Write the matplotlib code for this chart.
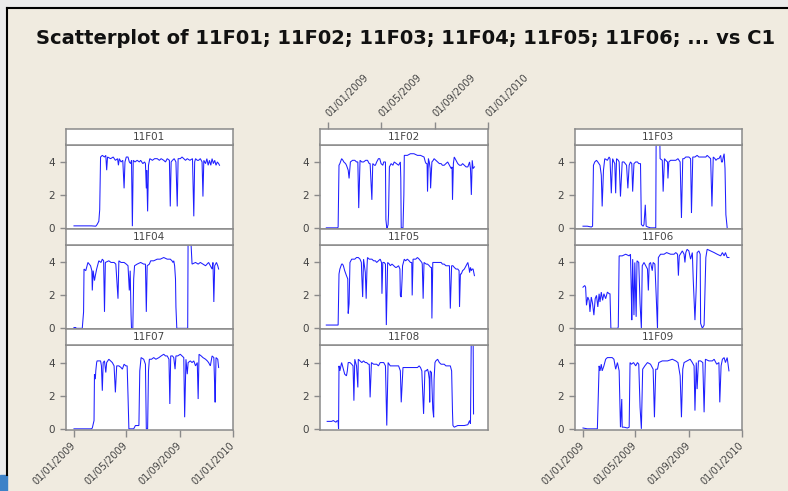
import matplotlib
matplotlib.use("Agg")
import matplotlib.pyplot as plt
from matplotlib.patches import Rectangle
from matplotlib.lines import Line2D

# ---------------- data ----------------
# x = days since 01/01/2009, y = value
tick_days = [0, 120, 243, 365]
tick_labels = ["01/01/2009", "01/05/2009", "01/09/2009", "01/01/2010"]
panel_names = ["11F01", "11F02", "11F03",
               "11F04", "11F05", "11F06",
               "11F07", "11F08", "11F09"]

f01 = [(0,0.12),(20,0.12),(40,0.12),(50,0.1),(53,0.2),(57,0.4),(59,1.1),(61,4.3),(65,4.4),(70,4.3),(73,4.4),
       (75,3.5),(77,4.3),(84,4.2),(90,4.3),(95,4.1),(100,4.2),(102,3.8),(104,4.2),(108,4.0),(112,4.1),(115,2.4),
       (117,4.0),(120,4.3),(124,4.3),(127,4.0),(130,3.9),(132,4.1),(134,0.1),(136,4.1),(140,4.0),(145,4.1),
       (150,4.0),(153,4.1),(158,3.9),(162,4.0),(164,3.9),(166,2.4),(167,3.5),(169,1.0),(171,3.8),(174,4.2),
       (180,4.1),(185,4.2),(191,4.2),(196,4.1),(200,4.2),(206,4.1),(210,4.0),(214,4.2),(219,4.1),(221,1.3),
       (223,4.0),(226,4.1),(230,4.2),(234,4.0),(237,1.3),(239,4.2),(244,4.2),(248,4.3),(252,4.2),(256,4.1),
       (260,4.2),(266,4.1),(272,4.2),(275,0.7),(277,4.0),(279,4.2),(283,4.1),(286,4.1),(290,4.2),(294,4.0),
       (296,1.9),(298,4.1),(302,3.9),(305,4.2),(308,3.8),(311,4.1),(314,3.8),(317,4.2),(320,3.9),(323,4.1),
       (326,3.8),(329,4.0),(332,3.9),(334,3.8)]

f02 = [(-4,0),(10,0),(22,0),(23,0.05),(25,3.8),(27,3.9),(31,4.2),(34,4.1),(36,4.0),(40,3.9),(42,3.8),(46,3.5),
       (48,3.0),(51,4.0),(56,4.1),(61,4.1),(65,4.0),(68,4.0),(70,1.2),(73,4.1),(77,4.0),(81,4.0),(86,4.1),
       (90,4.1),(94,3.9),(96,3.9),(100,1.7),(102,3.9),(106,3.8),(108,3.8),(111,4.0),(115,4.2),(118,4.2),
       (121,3.9),(125,3.8),(127,4.0),(131,4.0),(132,0.5),(134,0),(135,0),(137,0.2),(138,0.8),(140,3.7),
       (144,3.9),(148,3.8),(151,4.0),(156,3.9),(161,3.8),(165,4.0),(166,3.0),(167,0),(171,0),(173,2.0),
       (174,4.4),(177,4.4),(181,4.4),(188,4.5),(196,4.5),(204,4.4),(208,4.4),(211,4.4),(219,4.3),(222,4.0),
       (224,3.9),(226,3.9),(227,2.2),(229,4.2),(231,4.0),(233,3.6),(234,2.4),(237,4.0),(240,4.1),(242,4.2),
       (246,4.1),(250,4.0),(254,3.9),(258,3.9),(261,3.8),(265,3.8),(269,3.9),(273,4.0),(277,3.8),(281,3.6),
       (283,3.7),(284,1.7),(286,3.9),(288,4.3),(292,4.1),(296,3.9),(300,3.8),(304,3.8),(307,3.9),(311,3.8),
       (315,3.7),(319,3.7),(323,4.0),(325,3.6),(327,2.0),(329,4.1),(331,3.6),(334,3.7)]

f03 = [(0,0.1),(10,0.1),(19,0.05),(22,0.1),(24,3.8),(27,4.0),(31,4.1),(34,4.0),(39,3.8),(42,3.2),(44,1.3),
       (47,3.5),(50,4.2),(56,4.1),(60,4.3),(62,4.2),(65,2.1),(68,4.2),(71,4.0),(73,3.9),(75,2.1),(77,4.2),
       (81,4.1),(83,4.0),(86,1.9),(90,4.0),(94,4.0),(100,3.8),(103,2.4),(106,3.8),(109,4.0),(112,3.9),
       (114,2.2),(117,3.9),(121,4.0),(125,4.0),(128,3.9),(132,3.9),(134,0.2),(138,0.1),(140,0.2),(143,1.4),
       (145,0.1),(149,0.05),(155,0),(167,0),(168,6),(176,6),(177,4.2),(182,4.1),(184,2.2),(187,4.2),
       (190,4.1),(194,4.0),(195,3.0),(197,4.0),(201,4.1),(209,4.1),(213,4.1),(218,4.2),(223,4.0),(226,0.6),
       (229,4.2),(232,4.2),(236,4.3),(243,4.3),(247,4.2),(249,0.9),(252,4.3),(257,4.3),(262,4.4),(266,4.3),
       (270,4.3),(274,4.3),(278,4.3),(282,4.3),(285,4.4),(289,4.3),(293,4.2),(296,1.3),(299,4.3),(303,4.2),
       (305,4.1),(309,4.2),(312,4.2),(316,4.4),(318,4.0),(320,4.0),(322,4.3),(324,4.5),(326,3.6),(328,0.8),
       (331,0)]

f04 = [(0,0.05),(4,0.05),(5,0),(19,0),(22,1.0),(23,3.6),(27,3.5),(30,3.8),(32,4.0),(35,3.9),(38,3.8),
       (41,3.5),(42,2.3),(44,3.5),(47,2.9),(49,3.2),(52,3.6),(57,4.1),(62,4.0),(65,4.2),(68,4.1),(70,1.0),
       (72,4.0),(80,4.1),(85,4.0),(92,4.0),(96,3.9),(101,1.8),(103,4.1),(108,4.0),(115,4.0),(120,3.9),
       (124,3.8),(127,2.3),(129,3.5),(131,0.8),(132,0),(135,0),(137,3.0),(139,3.8),(145,3.9),(153,4.0),
       (160,3.9),(164,3.9),(166,1.0),(168,3.8),(173,3.9),(176,4.1),(183,4.1),(191,4.2),(198,4.2),(206,4.3),
       (214,4.2),(221,4.2),(225,4.1),(227,4.0),(229,4.1),(231,3.8),(233,3.0),(234,1.3),(236,0),(250,0),
       (261,0),(262,6),(267,6),(271,3.9),(279,4.0),(285,3.9),(290,4.0),(296,3.9),(302,3.8),(309,4.0),
       (313,3.8),(317,3.6),(319,4.0),(321,1.6),(323,3.8),(327,4.0),(330,3.8),(332,3.6)]

f05 = [(-4,0.2),(10,0.2),(20,0.2),(23,0.2),(25,3.3),(27,3.6),(31,3.9),(33,3.9),(35,3.8),(38,3.5),(42,3.2),
       (45,3.0),(46,0.9),(48,1.5),(50,4.0),(54,4.2),(58,4.2),(61,4.2),(65,4.3),(69,4.3),(73,4.2),(76,4.0),
       (77,3.2),(79,1.9),(81,4.2),(85,3.4),(87,1.8),(89,3.8),(90,4.3),(94,4.2),(96,4.2),(100,4.2),(104,4.1),
       (108,4.1),(111,4.0),(115,4.1),(119,4.2),(122,4.0),(123,2.1),(125,4.0),(128,4.0),(131,3.9),(133,0.2),
       (136,4.0),(140,3.9),(142,3.8),(146,3.9),(150,3.8),(154,3.7),(156,3.7),(161,3.8),(164,3.6),(165,2.0),
       (167,1.9),(169,3.0),(170,3.8),(174,4.2),(177,4.1),(181,4.2),(185,4.1),(188,4.0),(191,4.0),(192,2.0),
       (194,4.2),(200,4.2),(204,4.3),(208,4.2),(211,4.1),(214,4.0),(215,3.9),(217,1.8),(219,4.0),(224,3.9),
       (227,3.9),(231,3.8),(234,3.7),(236,3.7),(237,0.6),(239,4.0),(242,4.0),(246,4.0),(250,4.0),(254,4.0),
       (258,4.0),(261,3.9),(265,3.9),(269,3.8),(273,3.8),(277,3.8),(279,1.2),(282,3.8),(285,3.8),(288,3.7),
       (292,3.6),(296,3.6),(299,3.5),(300,1.3),(302,3.3),(304,3.3),(307,3.5),(311,3.6),(315,3.8),(319,4.0),
       (322,3.6),(323,3.4),(325,3.7),(327,3.5),(329,3.6),(331,3.6),(334,3.2)]

f06 = [(0,2.5),(4,2.6),(6,2.5),(8,1.4),(11,1.9),(14,1.7),(16,1.0),(19,1.9),(22,1.5),(25,0.8),(28,1.8),
       (31,2.0),(34,1.3),(37,2.1),(39,1.6),(42,2.2),(45,1.7),(48,2.1),(52,1.8),(56,2.2),(60,2.1),(62,2.1),
       (64,0),(80,0),(81,0.1),(83,4.4),(90,4.4),(98,4.5),(106,4.4),(109,4.5),(111,2.0),(112,0.5),(114,4.2),
       (117,0.8),(119,4.0),(122,0.7),(124,4.1),(128,4.0),(131,1.5),(134,0),(136,3.8),(140,4.0),(144,3.8),
       (148,3.6),(150,2.3),(152,3.9),(155,4.0),(159,3.5),(161,4.0),(165,3.9),(168,2.0),(171,0),(173,4.3),
       (178,4.5),(186,4.5),(192,4.6),(201,4.5),(209,4.5),(213,4.6),(217,4.5),(219,3.2),(221,4.4),(228,4.7),
       (232,4.5),(234,4.0),(236,4.6),(239,4.8),(243,4.7),(247,4.2),(251,4.6),(253,3.0),(257,0.5),(260,2.5),
       (262,4.6),(266,4.7),(269,4.5),(270,0.3),(274,0),(278,0.2),(282,4.3),(285,4.8),(293,4.7),(301,4.6),
       (308,4.5),(316,4.4),(320,4.6),(324,4.4),(327,4.6),(331,4.3),(335,4.3)]

f07 = [(0,0),(20,0),(40,0),(42,0.05),(46,0.5),(47,3.3),(49,3.0),(50,3.5),(52,4.0),(53,4.1),(57,4.1),(61,4.1),
       (63,3.8),(65,2.3),(67,4.0),(70,4.1),(73,3.4),(75,4.0),(80,4.2),(84,4.1),(88,4.0),(92,3.8),(95,2.2),
       (98,3.8),(103,3.8),(108,3.7),(111,3.6),(115,3.9),(119,3.8),(122,3.8),(124,2.0),(126,0),(130,0),
       (137,0),(141,0.2),(149,0.2),(151,3.5),(154,4.3),(160,4.2),(164,3.9),(166,0),(169,0),(171,3.5),
       (173,4.2),(178,4.2),(183,4.3),(188,4.2),(195,4.3),(200,4.4),(206,4.5),(210,4.4),(214,4.4),(218,4.2),
       (220,1.5),(222,4.4),(226,4.4),(229,4.3),(232,3.6),(234,4.4),(238,4.4),(244,4.5),(248,4.4),(252,4.3),
       (254,0.7),(257,4.2),(260,3.3),(262,4.0),(267,4.1),(271,4.0),(275,4.1),(279,3.8),(283,4.0),(285,1.8),
       (287,4.5),(292,4.4),(296,4.3),(302,4.2),(306,4.1),(309,4.0),(313,3.8),(317,4.4),(321,4.3),(323,2.5),
       (324,1.6),(326,4.3),(330,4.2),(332,3.7)]

f08 = [(-2,0.45),(8,0.45),(12,0.5),(18,0.4),(21,0.5),(23,0.45),(24,0),(25,3.8),(27,3.5),(31,4.0),(35,3.6),
       (38,3.3),(42,3.2),(44,3.5),(46,4.0),(50,4.0),(54,3.9),(57,3.8),(59,1.7),(61,4.2),(65,3.8),(68,2.5),
       (69,4.2),(73,4.1),(77,4.0),(81,4.1),(85,4.0),(88,4.0),(92,3.9),(94,3.9),(96,1.9),(99,4.0),(104,3.9),
       (108,3.9),(111,3.9),(115,3.8),(119,4.0),(123,4.0),(127,4.0),(131,3.8),(134,0.2),(137,4.0),(142,3.8),
       (146,3.8),(150,3.8),(154,3.8),(158,3.8),(161,3.8),(165,3.5),(167,1.6),(171,3.7),(177,3.7),(181,3.7),
       (188,3.7),(194,3.7),(200,3.7),(204,3.7),(208,3.8),(211,3.7),(214,3.5),(218,0.9),(221,3.5),(224,3.5),
       (227,3.6),(229,3.4),(231,3.0),(232,1.6),(233,3.5),(236,3.4),(239,1.2),(241,0.7),(242,3.0),(244,4.0),
       (246,4.1),(250,4.2),(254,4.0),(258,3.9),(261,3.9),(265,3.9),(269,3.8),(273,3.8),(277,3.8),(279,3.8),
       (282,3.5),(284,1.0),(285,0.2),(288,0.1),(296,0.2),(304,0.2),(311,0.2),(319,0.25),(323,0.5),(325,0.3),
       (327,6),(331,6),(332,0.9)]

f09 = [(0,0.05),(10,0),(33,0),(37,3.8),(39,3.5),(42,3.9),(44,3.5),(48,3.8),(52,4.2),(56,4.3),(60,4.3),
       (64,4.3),(67,4.3),(71,4.2),(75,3.6),(79,4.0),(83,3.5),(85,1.2),(86,0.1),(89,1.8),(90,0.1),(94,0.1),
       (102,0.05),(106,0.1),(108,4.0),(111,3.9),(116,4.0),(121,3.8),(125,4.0),(128,3.9),(131,1.3),(134,0),
       (137,3.6),(142,3.8),(148,4.0),(155,3.9),(161,3.6),(164,0.7),(167,3.6),(171,3.6),(174,4.0),(182,4.1),
       (194,4.1),(205,4.2),(213,4.1),(218,4.0),(223,3.2),(226,0.7),(229,3.6),(232,4.0),(239,4.1),(246,4.2),
       (251,4.0),(255,3.8),(257,1.1),(260,4.0),(262,2.4),(265,4.1),(270,4.1),(275,4.0),(278,1.0),(281,4.2),
       (289,4.1),(297,4.1),(301,4.2),(307,3.9),(312,4.0),(314,1.6),(317,3.8),(320,4.2),(324,4.3),(327,4.0),
       (331,4.3),(335,3.5)]

series = [f01, f02, f03, f04, f05, f06, f07, f08, f09]

# ---------------- layout / style ----------------
W, H = 788, 491
BG = "#f0ebe0"
MARGIN = "#ebebeb"
LINE = "#1f1fff"
SPINE = "#8a8a8a"
TXT = "#444444"

fig = plt.figure(figsize=(W / 100, H / 100), dpi=100)
fig.patch.set_facecolor(BG)

def box(x0, y0, x1, y1):
    return [x0 / W, 1 - y1 / H, (x1 - x0) / W, (y1 - y0) / H]

# window frame
fig.add_artist(Rectangle((0, 0), 6 / W, 1, transform=fig.transFigure, color=MARGIN, zorder=0))
fig.add_artist(Rectangle((0, 1 - 7 / H), 1, 7 / H, transform=fig.transFigure, color=MARGIN, zorder=0))
fig.add_artist(Line2D([6.5 / W, 6.5 / W], [1 - 8 / H, 16 / H], transform=fig.transFigure,
                      color="black", lw=1.5))
fig.add_artist(Line2D([6.5 / W, 1], [1 - 8 / H, 1 - 8 / H], transform=fig.transFigure,
                      color="black", lw=1.5))
fig.add_artist(Rectangle((0, 0), 7 / W, 16 / H, transform=fig.transFigure, color="#3c82c8", zorder=1))

fig.text(406 / W, 1 - 38 / H, "Scatterplot of 11F01; 11F02; 11F03; 11F04; 11F05; 11F06; ... vs C1",
         ha="center", va="center", fontsize=14, fontweight="bold", color="#111111",
         family="DejaVu Sans")

col_x = [(65.5, 233), (319.5, 488), (574.5, 742)]
strip_y = [(129, 144.5), (228.5, 245), (329, 345)]
panel_y = [(144.5, 228.5), (245, 329), (345, 429.5)]
XLIM = (-19.5, 365)
YLIM = (-0.04, 5.06)

for idx, (name, data) in enumerate(zip(panel_names, series)):
    r, c = divmod(idx, 3)
    x0, x1 = col_x[c]
    # panel
    ax = fig.add_axes(box(x0, panel_y[r][0], x1, panel_y[r][1]))
    ax.set_facecolor("white")
    d = [p[0] for p in data]
    v = [p[1] for p in data]
    ax.plot(d, v, color=LINE, lw=0.75, solid_joinstyle="miter")
    ax.set_xlim(*XLIM)
    ax.set_ylim(*YLIM)
    ax.set_yticks([0, 2, 4])
    ax.set_yticklabels(["0", "2", "4"])
    ax.tick_params(axis="y", length=4.5, width=1, color=SPINE, pad=3,
                   labelsize=7.5, labelcolor=TXT)
    for s in ax.spines.values():
        s.set_color(SPINE)
        s.set_linewidth(1.1)
    if r == 2 and c != 1:
        ax.set_xticks(tick_days)
        ax.set_xticklabels(tick_labels, rotation=45, ha="right", va="center",
                           rotation_mode="anchor")
        ax.tick_params(axis="x", length=5, width=1, color=SPINE, pad=5,
                       labelsize=7, labelcolor=TXT)
    else:
        ax.set_xticks([])
    # strip
    sax = fig.add_axes(box(x0, strip_y[r][0], x1, strip_y[r][1]))
    sax.set_facecolor("white")
    sax.set_xlim(*XLIM)
    sax.set_yticks([])
    for s in sax.spines.values():
        s.set_color(SPINE)
        s.set_linewidth(1.1)
    sax.text(0.5, 0.5, name, transform=sax.transAxes, ha="center", va="center",
             fontsize=7.5, color=TXT)
    if r == 0 and c == 1:
        sax.xaxis.tick_top()
        sax.set_xticks(tick_days)
        sax.set_xticklabels(tick_labels, rotation=45, ha="left", va="center",
                            rotation_mode="anchor")
        sax.tick_params(axis="x", length=5, width=1, color=SPINE, pad=5,
                        labelsize=7, labelcolor=TXT)
    else:
        sax.set_xticks([])

fig.savefig("out.png", dpi=100, facecolor=BG)
